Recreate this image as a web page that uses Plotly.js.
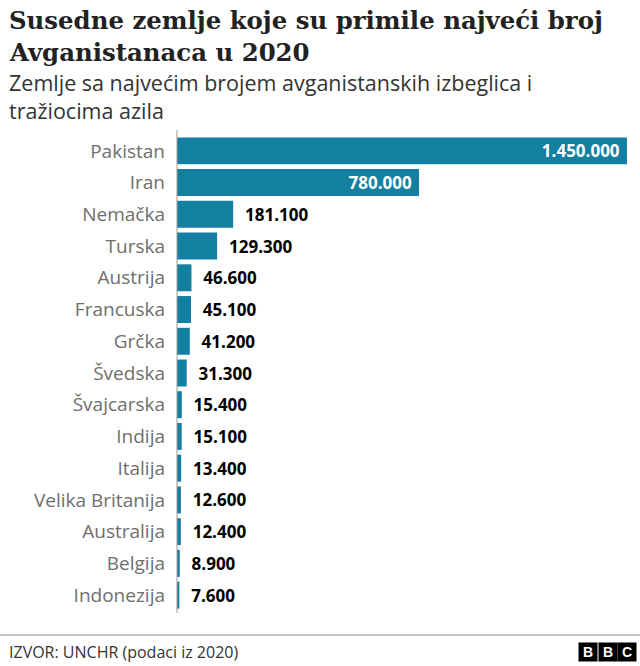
<!DOCTYPE html>
<html>
<head>
<meta charset="utf-8">
<script src="https://cdn.plot.ly/plotly-3.0.1.min.js"></script>
<style>html,body{margin:0;padding:0;background:#fff;}#chart{width:640px;height:666px;}</style>
</head>
<body>
<div id="chart"></div>
<script>
const countries = ["Pakistan","Iran","Nemačka","Turska","Austrija","Francuska","Grčka","Švedska","Švajcarska","Indija","Italija","Velika Britanija","Australija","Belgija","Indonezija"];
const values = [1450000,780000,181100,129300,46600,45100,41200,31300,15400,15100,13400,12600,12400,8900,7600];
const insideCount = 2;

const W = 640, H = 666;
const L = 177, R = 13, T = 135, B = 55;
const PW = W - L - R, PH = H - T - B;
const px = x => (x - L) / PW;
const py = y => (H - B - y) / PH;

function fmt(v){ return String(v).replace(/\B(?=(\d{3})+(?!\d))/g, "."); }
const NB = "\u00a0";
const texts = values.map((v,i) => i < insideCount ? fmt(v) + NB : NB + NB + fmt(v));
const positions = values.map((v,i) => i < insideCount ? "inside" : "outside");

const trace = {
  type: "bar",
  orientation: "h",
  y: countries,
  x: values,
  text: texts,
  textposition: positions,
  insidetextanchor: "end",
  constraintext: "none",
  cliponaxis: false,
  marker: {color: "#1380A1"},
  insidetextfont: {family: "Open Sans", size: 17, color: "#ffffff", weight: "bold"},
  outsidetextfont: {family: "Open Sans", size: 17, color: "#000000", weight: "bold"},
  hoverinfo: "none"
};

const annotations = [
  {text: "<b>Susedne zemlje koje su primile najveći broj</b>", x: px(7), y: py(21)},
  {text: "<b>Avganistanaca u 2020</b>", x: px(7), y: py(53)},
].map(a => Object.assign(a, {xref: "paper", yref: "paper", xanchor: "left", yanchor: "middle", showarrow: false,
  font: {family: "DejaVu Serif", size: 24.4, color: "#222222"}}));

annotations.push({text: "Zemlje sa najvećim brojem avganistanskih izbeglica i<br>tražiocima azila",
  x: px(7), y: py(96), xref: "paper", yref: "paper", xanchor: "left", yanchor: "middle", align: "left", showarrow: false,
  font: {family: "Open Sans", size: 21.5, color: "#333333"}});

annotations.push({text: "IZVOR: UNCHR (podaci iz 2020)", x: px(7), y: py(652), xref: "paper", yref: "paper", xanchor: "left", yanchor: "middle", showarrow: false,
  font: {family: "Open Sans", size: 16, color: "#333333"}});

[["B", 588], ["B", 607.5], ["C", 627]].forEach(([t, cx]) => {
  annotations.push({text: "<b>" + t + "</b>", x: px(cx), y: py(652), xref: "paper", yref: "paper", xanchor: "center", yanchor: "middle",
    showarrow: false, bgcolor: "#000000", width: 18, height: 18, borderpad: 0,
    font: {family: "Liberation Sans", size: 14, color: "#ffffff"}});
});

const shapes = [
  {type: "line", xref: "paper", yref: "paper", x0: px(0), x1: px(640), y0: py(635), y1: py(635), line: {color: "#8a8a8a", width: 1}},
  {type: "line", xref: "paper", yref: "paper", x0: 0, x1: 0, y0: py(130), y1: py(613), line: {color: "#999999", width: 1}}
];

const layout = {
  width: W, height: H,
  margin: {l: L, r: R, t: T, b: B, pad: 0},
  paper_bgcolor: "#ffffff",
  plot_bgcolor: "#ffffff",
  showlegend: false,
  bargap: 0.15,
  xaxis: {range: [0, 1450000], visible: false, fixedrange: true},
  yaxis: {autorange: "reversed", showline: false, showgrid: false, zeroline: false, ticks: "",
    ticklabelstandoff: 11,
    tickfont: {family: "Open Sans", size: 19, color: "#6e6e6e"}, fixedrange: true},
  annotations: annotations,
  shapes: shapes
};

Plotly.newPlot("chart", [trace], layout, {staticPlot: true, displayModeBar: false});
</script>
</body>
</html>
